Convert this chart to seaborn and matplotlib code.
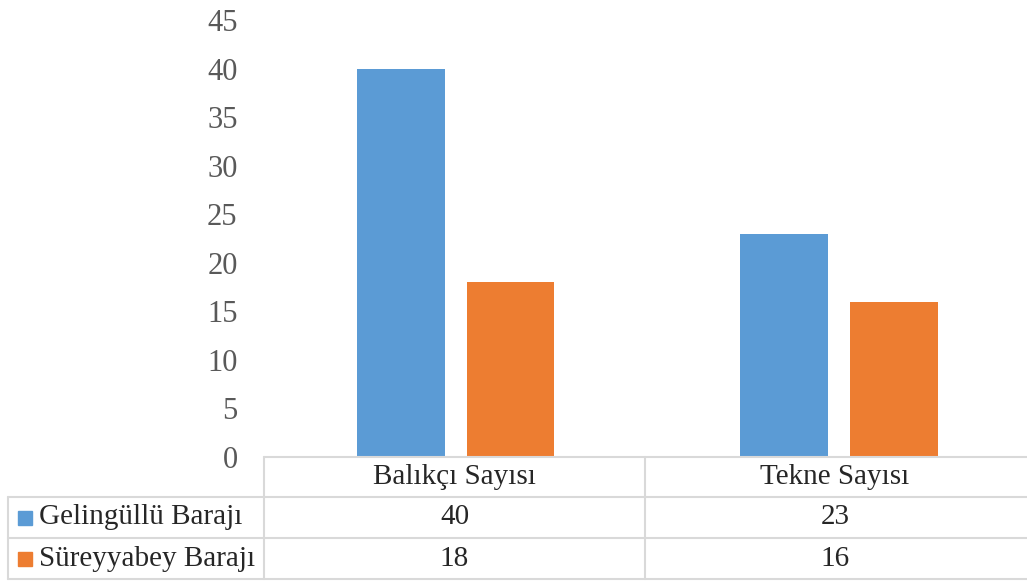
import matplotlib
matplotlib.use("Agg")
import matplotlib.pyplot as plt
import seaborn as sns
import pandas as pd
from matplotlib.lines import Line2D
from matplotlib.patches import Rectangle

categories = ["Balıkçı Sayısı", "Tekne Sayısı"]
series_names = ["Gelingüllü Barajı", "Süreyyabey Barajı"]
gelingullu = [40, 23]
sureyyabey = [18, 16]
colors = ["#5B9BD5", "#ED7D31"]

df = pd.DataFrame({
    "kategori": categories * 2,
    "baraj": [series_names[0]] * 2 + [series_names[1]] * 2,
    "deger": gelingullu + sureyyabey,
})

sns.set_style("white")
plt.rcParams["font.family"] = ["Liberation Serif", "DejaVu Serif"]

W, H = 1027, 581
fig = plt.figure(figsize=(W / 100, H / 100), dpi=100)

def fx(px):
    return px / W

def fy(py):
    return 1 - py / H

ax = fig.add_axes([fx(264), fy(457), fx(1024) - fx(264), fy(20) - fy(457)])
sns.barplot(data=df, x="kategori", y="deger", hue="baraj", palette=colors,
            width=0.574, gap=0.2, saturation=1, linewidth=0, ax=ax, legend=False)
ax.set_xlim(-0.5, 1.484)
ax.set_ylim(0, 45)
ax.set_yticks(range(0, 46, 5))
ax.tick_params(axis="y", labelsize=22, colors="#595959", length=0, pad=19)
ax.set_xticks([])
ax.set_xlabel("")
ax.set_ylabel("")
for s in ax.spines.values():
    s.set_visible(False)

# data table below the chart
grid = "#d9d9d9"
def hline(y, x0, x1):
    fig.add_artist(Line2D([fx(x0), fx(x1)], [fy(y), fy(y)], color=grid, lw=1.5))

def vline(x, y0, y1):
    fig.add_artist(Line2D([fx(x), fx(x)], [fy(y0), fy(y1)], color=grid, lw=1.5))

hline(457, 264, 1027)
hline(497, 8, 1027)
hline(538, 8, 1027)
hline(579, 8, 1027)
vline(264, 457, 579)
vline(645, 457, 579)
vline(8, 497, 579)

col_centers = [454.5, 835]
row_centers = [477, 517.5, 558.5]
for c, cat in enumerate(categories):
    fig.text(fx(col_centers[c]), fy(row_centers[0]), cat, ha="center", va="center", fontsize=21)

for r, (name, vals) in enumerate(zip(series_names, [gelingullu, sureyyabey])):
    yc = row_centers[r + 1]
    fig.add_artist(Rectangle((fx(18), fy(yc + 7)), fx(14), fy(yc - 7) - fy(yc + 7),
                             color=colors[r], transform=fig.transFigure))
    fig.text(fx(39), fy(yc), name, ha="left", va="center", fontsize=21)
    for c, v in enumerate(vals):
        fig.text(fx(col_centers[c]), fy(yc), str(v), ha="center", va="center", fontsize=21)

fig.savefig("out.png", dpi=100)
